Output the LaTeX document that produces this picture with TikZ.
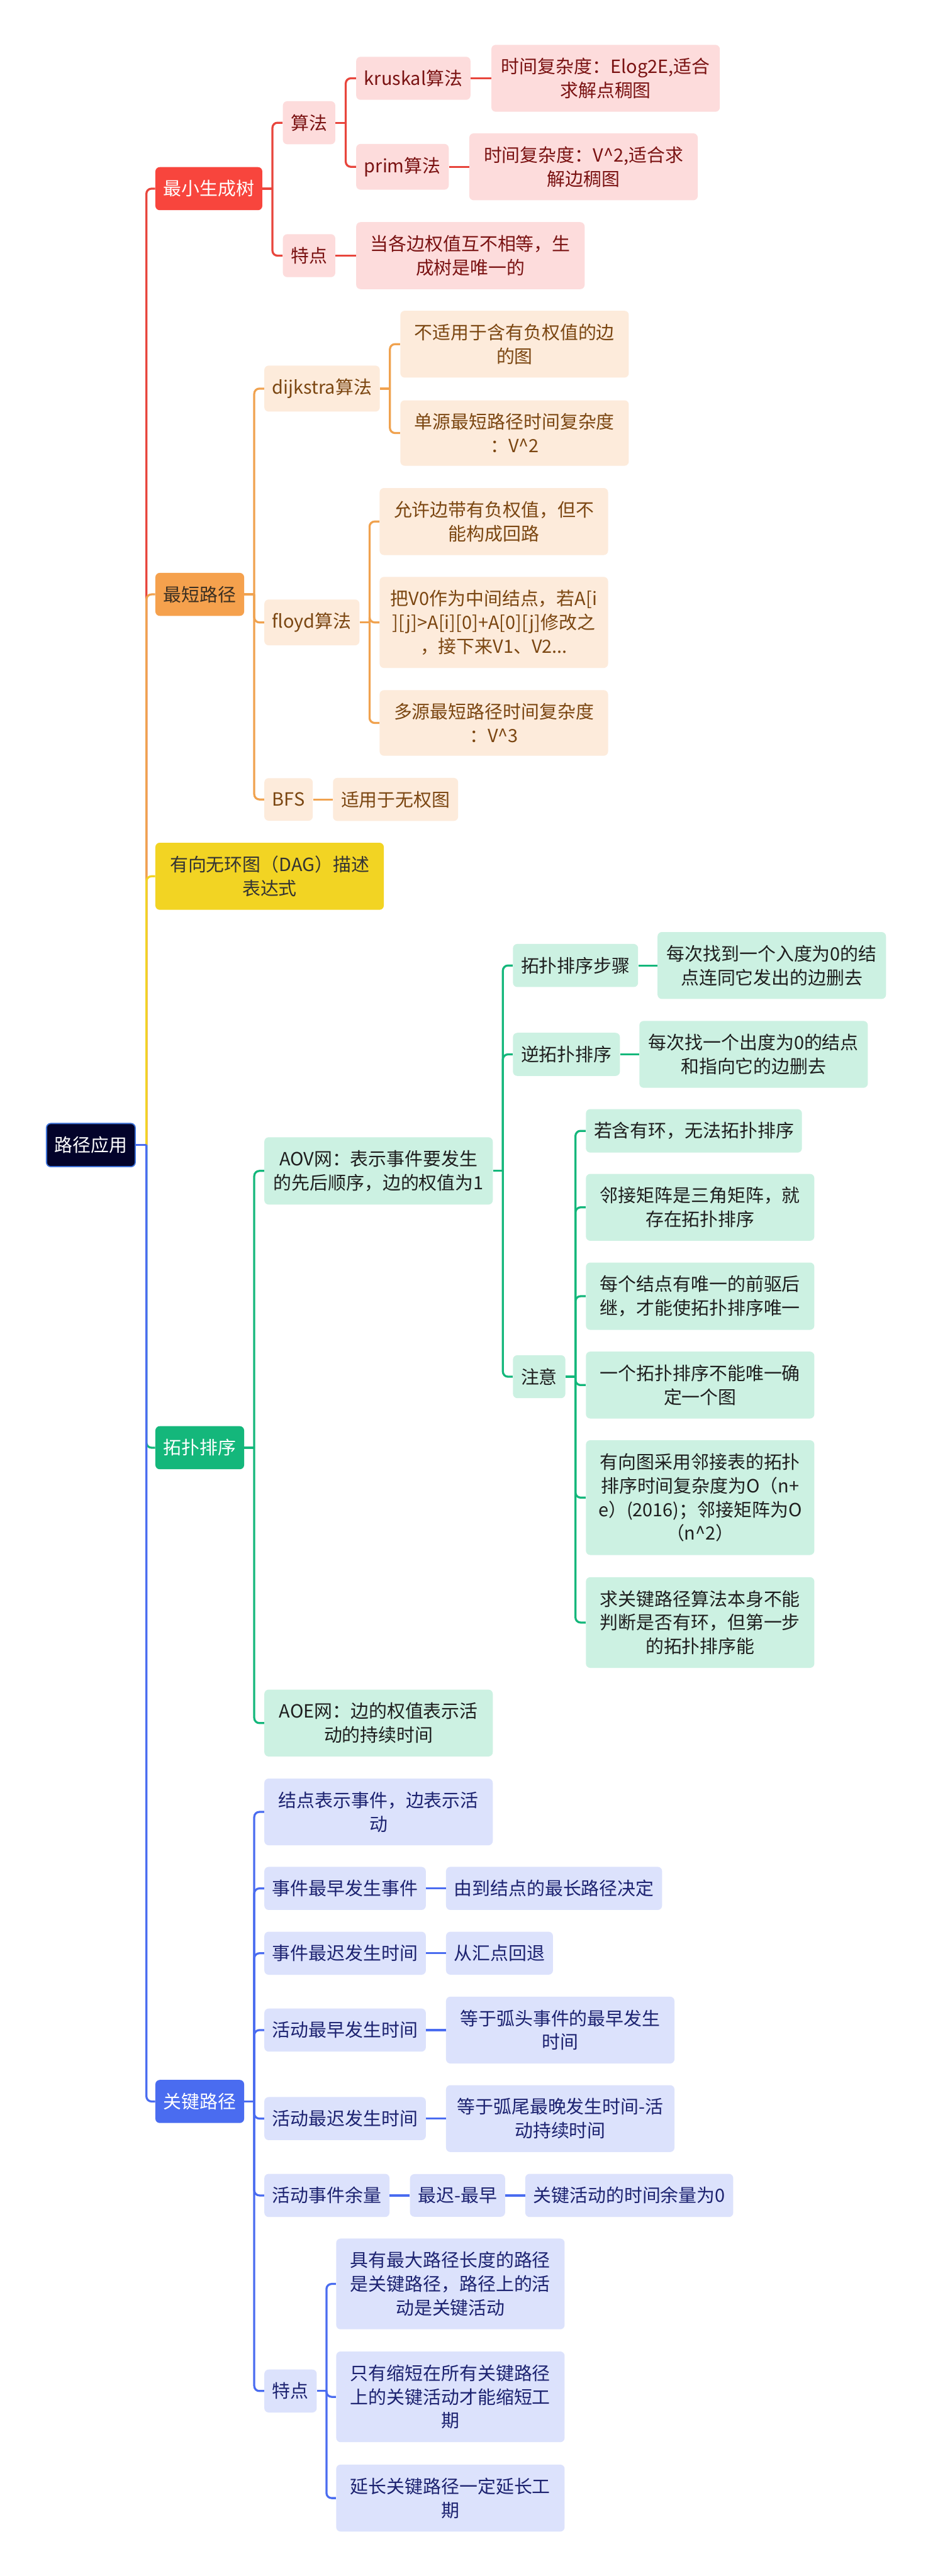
\documentclass[tikz,border=0pt]{standalone}
\usepackage{fontspec}
\setmainfont{Noto Sans CJK SC}
\usepackage{tikz}
\usetikzlibrary{positioning}
\definecolor{rootNavy}{HTML}{03032A}
\definecolor{rootEdge}{HTML}{3D72D8}
\definecolor{mstRed}{HTML}{F8453D}
\definecolor{mstPink}{HTML}{FDDCDC}
\definecolor{mstInk}{HTML}{7A1212}
\definecolor{mstLine}{HTML}{E8453C}
\definecolor{spOrange}{HTML}{F5A14D}
\definecolor{spPeach}{HTML}{FDEBDB}
\definecolor{spDark}{HTML}{3B2F22}
\definecolor{spInk}{HTML}{7B4611}
\definecolor{spLine}{HTML}{F0A24F}
\definecolor{dagYellow}{HTML}{F2D423}
\definecolor{dagInk}{HTML}{333333}
\definecolor{topoGreen}{HTML}{14B77B}
\definecolor{topoMint}{HTML}{CCF1E2}
\definecolor{topoInk}{HTML}{1E1E1E}
\definecolor{cpBlue}{HTML}{4A6CF0}
\definecolor{cpLilac}{HTML}{DCE2FC}
\definecolor{cpInk}{HTML}{1C2270}
\newcommand{\mapfont}{\fontsize{14.2pt}{18.6pt}\selectfont}
\tikzset{
  mapBox/.style={rounded corners=0.12cm, inner xsep=0.22cm, inner ysep=0.36cm, minimum height=1.17cm, align=center, font=\mapfont},
  wideBox/.style={minimum width=6.27cm},
  rootBox/.style={mapBox, fill=rootNavy, draw=rootEdge, line width=0.9pt, text=white},
  redTop/.style={mapBox, fill=mstRed, text=white},
  redSub/.style={mapBox, fill=mstPink, text=mstInk},
  orangeTop/.style={mapBox, fill=spOrange, text=spDark},
  orangeSub/.style={mapBox, fill=spPeach, text=spInk},
  yellowTop/.style={mapBox, fill=dagYellow, text=dagInk},
  greenTop/.style={mapBox, fill=topoGreen, text=white},
  greenSub/.style={mapBox, fill=topoMint, text=topoInk},
  blueTop/.style={mapBox, fill=cpBlue, text=white},
  blueSub/.style={mapBox, fill=cpLilac, text=cpInk},
  link/.style={line width=1.6pt, rounded corners=0.14cm},
  redLink/.style={link, draw=mstLine},
  orangeLink/.style={link, draw=spLine},
  yellowLink/.style={link, draw=dagYellow},
  greenLink/.style={link, draw=topoGreen},
  blueLink/.style={link, draw=cpBlue}
}

\begin{document}
\begin{tikzpicture}
  \useasboundingbox[fill=white] (0,0) rectangle (25.6,-70.73);

  \node[rootBox, anchor=west] (root) at (1.26,-31.44) {路径应用};

  % first level
  \node[redTop, right=0.53cm of root, yshift=26.26cm] (mst) {最小生成树};
  \node[orangeTop, right=0.53cm of root, yshift=15.12cm] (shortest) {最短路径};
  \node[yellowTop, wideBox, right=0.53cm of root, yshift=7.38cm] (dag) {有向无环图（DAG）描述\\表达式};
  \node[greenTop, right=0.53cm of root, yshift=-8.31cm] (topo) {拓扑排序};
  \node[blueTop, right=0.53cm of root, yshift=-26.26cm] (critical) {关键路径};

  % minimum spanning tree
  \node[redSub, right=0.55cm of mst, yshift=1.81cm] (mstAlgo) {算法};
  \node[redSub, right=0.55cm of mst, yshift=-1.84cm] (mstFeat) {特点};
  \node[redSub, right=0.56cm of mstAlgo, yshift=1.22cm] (kruskal) {kruskal算法};
  \node[redSub, right=0.56cm of mstAlgo, yshift=-1.21cm] (prim) {prim算法};
  \node[redSub, wideBox, right=0.56cm of kruskal] (kruskalNote) {时间复杂度：Elog2E,适合\\求解点稠图};
  \node[redSub, wideBox, right=0.55cm of prim] (primNote) {时间复杂度：V\textasciicircum2,适合求\\解边稠图};
  \node[redSub, wideBox, right=0.56cm of mstFeat] (mstFeatNote) {当各边权值互不相等，生\\成树是唯一的};

  % shortest path
  \node[orangeSub, right=0.54cm of shortest, yshift=5.65cm] (dijkstra) {dijkstra算法};
  \node[orangeSub, right=0.54cm of shortest, yshift=-0.77cm] (floyd) {floyd算法};
  \node[orangeSub, right=0.54cm of shortest, yshift=-5.63cm] (bfs) {BFS};
  \node[orangeSub, wideBox, right=0.55cm of dijkstra, yshift=1.22cm] (dijkNeg) {不适用于含有负权值的边\\的图};
  \node[orangeSub, wideBox, right=0.55cm of dijkstra, yshift=-1.22cm] (dijkTime) {单源最短路径时间复杂度\\：V\textasciicircum2};
  \node[orangeSub, wideBox, right=0.54cm of floyd, yshift=2.77cm] (floydNeg) {允许边带有负权值，但不\\能构成回路};
  \node[orangeSub, wideBox, right=0.54cm of floyd] (floydStep) {把V0作为中间结点，若A[i\\][j]>A[i][0]+A[0][j]修改之\\，接下来V1、V2...};
  \node[orangeSub, wideBox, right=0.54cm of floyd, yshift=-2.76cm] (floydTime) {多源最短路径时间复杂度\\：V\textasciicircum3};
  \node[orangeSub, right=0.54cm of bfs] (bfsNote) {适用于无权图};

  % topological sort
  \node[greenSub, wideBox, right=0.54cm of topo, yshift=7.60cm] (aov) {AOV网：表示事件要发生\\的先后顺序，边的权值为1};
  \node[greenSub, wideBox, right=0.54cm of topo, yshift=-7.56cm] (aoe) {AOE网：边的权值表示活\\动的持续时间};
  \node[greenSub, right=0.54cm of aov, yshift=5.64cm] (topoSteps) {拓扑排序步骤};
  \node[greenSub, right=0.54cm of aov, yshift=3.20cm] (revTopo) {逆拓扑排序};
  \node[greenSub, right=0.54cm of aov, yshift=-5.65cm] (aovRemark) {注意};
  \node[greenSub, wideBox, right=0.52cm of topoSteps] (topoStepsNote) {每次找到一个入度为0的结\\点连同它发出的边删去};
  \node[greenSub, wideBox, right=0.52cm of revTopo] (revTopoNote) {每次找一个出度为0的结点\\和指向它的边删去};
  \node[greenSub, right=0.55cm of aovRemark, yshift=6.75cm] (remarkA) {若含有环，无法拓扑排序};
  \node[greenSub, wideBox, right=0.55cm of aovRemark, yshift=4.65cm] (remarkB) {邻接矩阵是三角矩阵，就\\存在拓扑排序};
  \node[greenSub, wideBox, right=0.55cm of aovRemark, yshift=2.21cm] (remarkC) {每个结点有唯一的前驱后\\继，才能使拓扑排序唯一};
  \node[greenSub, wideBox, right=0.55cm of aovRemark, yshift=-0.23cm] (remarkD) {一个拓扑排序不能唯一确\\定一个图};
  \node[greenSub, wideBox, right=0.55cm of aovRemark, yshift=-3.32cm] (remarkE) {有向图采用邻接表的拓扑\\排序时间复杂度为O（n+\\e）(2016)；邻接矩阵为O\\（n\textasciicircum2）};
  \node[greenSub, wideBox, right=0.55cm of aovRemark, yshift=-6.75cm] (remarkF) {求关键路径算法本身不能\\判断是否有环，但第一步\\的拓扑排序能};

  % critical path
  \node[blueSub, wideBox, right=0.54cm of critical, yshift=7.95cm] (cpEvent) {结点表示事件，边表示活\\动};
  \node[blueSub, right=0.54cm of critical, yshift=5.85cm] (cpEarlyEv) {事件最早发生事件};
  \node[blueSub, right=0.54cm of critical, yshift=4.07cm] (cpLateEv) {事件最迟发生时间};
  \node[blueSub, right=0.54cm of critical, yshift=1.96cm] (cpEarlyAct) {活动最早发生时间};
  \node[blueSub, right=0.54cm of critical, yshift=-0.47cm] (cpLateAct) {活动最迟发生时间};
  \node[blueSub, right=0.54cm of critical, yshift=-2.58cm] (cpSlack) {活动事件余量};
  \node[blueSub, right=0.54cm of critical, yshift=-7.95cm] (cpFeat) {特点};
  \node[blueSub, right=0.54cm of cpEarlyEv] (cpEarlyEvNote) {由到结点的最长路径决定};
  \node[blueSub, right=0.54cm of cpLateEv] (cpLateEvNote) {从汇点回退};
  \node[blueSub, wideBox, right=0.54cm of cpEarlyAct] (cpEarlyActNote) {等于弧头事件的最早发生\\时间};
  \node[blueSub, wideBox, right=0.54cm of cpLateAct] (cpLateActNote) {等于弧尾最晚发生时间-活\\动持续时间};
  \node[blueSub, right=0.55cm of cpSlack] (cpSlackDiff) {最迟-最早};
  \node[blueSub, right=0.54cm of cpSlackDiff] (cpSlackZero) {关键活动的时间余量为0};
  \node[blueSub, wideBox, right=0.52cm of cpFeat, yshift=2.94cm] (cpFeatA) {具有最大路径长度的路径\\是关键路径，路径上的活\\动是关键活动};
  \node[blueSub, wideBox, right=0.52cm of cpFeat, yshift=-0.16cm] (cpFeatB) {只有缩短在所有关键路径\\上的关键活动才能缩短工\\期};
  \node[blueSub, wideBox, right=0.52cm of cpFeat, yshift=-2.94cm] (cpFeatC) {延长关键路径一定延长工\\期};

  % trunk
  \draw[redLink] ([xshift=0.29cm]root.east) |- (mst.west);
  \draw[orangeLink] ([xshift=0.29cm]root.east) |- (shortest.west);
  \draw[yellowLink] ([xshift=0.29cm]root.east) |- (dag.west);
  \draw[greenLink] ([xshift=0.29cm]root.east) |- (topo.west);
  \draw[blueLink] ([xshift=0.29cm]root.east) |- (critical.west);
  \draw[blueLink] (root.east) -- ++(0.29,0);

  % red branch
  \draw[redLink] (mst.east) -- ++(0.27,0);
  \foreach \c in {mstAlgo,mstFeat} \draw[redLink] ([xshift=0.27cm]mst.east) |- (\c.west);
  \draw[redLink] (mstAlgo.east) -- ++(0.28,0);
  \foreach \c in {kruskal,prim} \draw[redLink] ([xshift=0.28cm]mstAlgo.east) |- (\c.west);
  \draw[redLink] (kruskal.east) -- (kruskalNote.west);
  \draw[redLink] (prim.east) -- (primNote.west);
  \draw[redLink] (mstFeat.east) -- (mstFeatNote.west);

  % orange branch
  \draw[orangeLink] (shortest.east) -- ++(0.27,0);
  \foreach \c in {dijkstra,floyd,bfs} \draw[orangeLink] ([xshift=0.27cm]shortest.east) |- (\c.west);
  \draw[orangeLink] (dijkstra.east) -- ++(0.27,0);
  \foreach \c in {dijkNeg,dijkTime} \draw[orangeLink] ([xshift=0.27cm]dijkstra.east) |- (\c.west);
  \draw[orangeLink] (floyd.east) -- ++(0.27,0);
  \foreach \c in {floydNeg,floydStep,floydTime} \draw[orangeLink] ([xshift=0.27cm]floyd.east) |- (\c.west);
  \draw[orangeLink] (bfs.east) -- (bfsNote.west);

  % green branch
  \draw[greenLink] (topo.east) -- ++(0.27,0);
  \foreach \c in {aov,aoe} \draw[greenLink] ([xshift=0.27cm]topo.east) |- (\c.west);
  \draw[greenLink] (aov.east) -- ++(0.27,0);
  \foreach \c in {topoSteps,revTopo,aovRemark} \draw[greenLink] ([xshift=0.27cm]aov.east) |- (\c.west);
  \draw[greenLink] (topoSteps.east) -- (topoStepsNote.west);
  \draw[greenLink] (revTopo.east) -- (revTopoNote.west);
  \draw[greenLink] (aovRemark.east) -- ++(0.27,0);
  \foreach \c in {remarkA,remarkB,remarkC,remarkD,remarkE,remarkF} \draw[greenLink] ([xshift=0.27cm]aovRemark.east) |- (\c.west);

  % blue branch
  \draw[blueLink] (critical.east) -- ++(0.27,0);
  \foreach \c in {cpEvent,cpEarlyEv,cpLateEv,cpEarlyAct,cpLateAct,cpSlack,cpFeat} \draw[blueLink] ([xshift=0.27cm]critical.east) |- (\c.west);
  \draw[blueLink] (cpEarlyEv.east) -- (cpEarlyEvNote.west);
  \draw[blueLink] (cpLateEv.east) -- (cpLateEvNote.west);
  \draw[blueLink] (cpEarlyAct.east) -- (cpEarlyActNote.west);
  \draw[blueLink] (cpLateAct.east) -- (cpLateActNote.west);
  \draw[blueLink] (cpSlack.east) -- (cpSlackDiff.west);
  \draw[blueLink] (cpSlackDiff.east) -- (cpSlackZero.west);
  \draw[blueLink] (cpFeat.east) -- ++(0.26,0);
  \foreach \c in {cpFeatA,cpFeatB,cpFeatC} \draw[blueLink] ([xshift=0.26cm]cpFeat.east) |- (\c.west);
\end{tikzpicture}
\end{document}
